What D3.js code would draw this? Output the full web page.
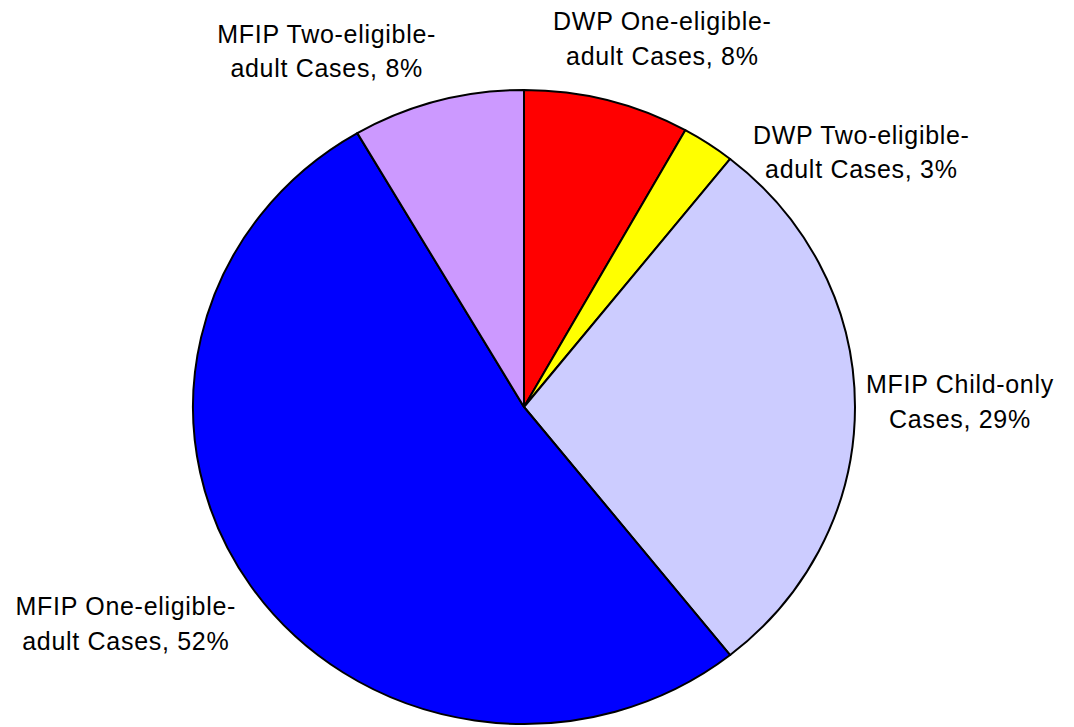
<!DOCTYPE html>
<html>
<head>
<meta charset="utf-8">
<script src="https://cdn.jsdelivr.net/npm/d3@7"></script>
<style>
  html, body { margin: 0; padding: 0; background: #fff; }
  svg { display: block; }
  .lbl { font-family: "Liberation Sans", Arial, sans-serif; font-size: 25px; letter-spacing: 0.7px; fill: #000; }
</style>
</head>
<body>
<div id="chart"></div>
<script>
// data (percent of cases), clockwise from 12 o'clock
const categories = [
    ["DWP One-eligible-", "adult Cases, 8%"],
    ["DWP Two-eligible-", "adult Cases, 3%"],
    ["MFIP Child-only", "Cases, 29%"],
    ["MFIP One-eligible-", "adult Cases, 52%"],
    ["MFIP Two-eligible-", "adult Cases, 8%"]
];
const values = [8.1, 2.6, 28.6, 52.3, 8.4];
const colors = ["#FF0000", "#FFFF00", "#CCCCFF", "#0000FF", "#CC99FF"];

const width = 1074, height = 727;
const cx = 524, cy = 407;
const rx = 331, ry = 317;

// label offsets from the slice's mid-point on the rim (layout only)
const labelOffsets = [[55, -70], [153, 0], [105, -14], [-125, 29], [-111, -58]];

const svg = d3.select("#chart").append("svg")
    .attr("width", width)
    .attr("height", height);

const pie = d3.pie().sort(null).value(d => d);
const arcs = pie(values);

const arc = d3.arc().innerRadius(0).outerRadius(ry);

svg.append("g")
    .attr("transform", `translate(${cx},${cy}) scale(${rx / ry},1)`)
    .selectAll("path")
    .data(arcs)
    .join("path")
    .attr("d", arc)
    .attr("fill", (d, i) => colors[i])
    .attr("stroke", "#000")
    .attr("stroke-width", 2)
    .attr("stroke-linejoin", "round")
    .attr("vector-effect", "non-scaling-stroke");

const labels = svg.append("g")
    .selectAll("text")
    .data(arcs)
    .join("text")
    .attr("class", "lbl")
    .attr("text-anchor", "middle")
    .attr("transform", (d, i) => {
        const a = (d.startAngle + d.endAngle) / 2;
        const x = cx + rx * Math.sin(a) + labelOffsets[i][0];
        const y = cy - ry * Math.cos(a) + labelOffsets[i][1];
        return `translate(${x},${y})`;
    });

labels.selectAll("tspan")
    .data((d, i) => categories[i])
    .join("tspan")
    .attr("x", 0)
    .attr("y", (d, j) => j * 34.5)
    .text(d => d);
</script>
</body>
</html>
